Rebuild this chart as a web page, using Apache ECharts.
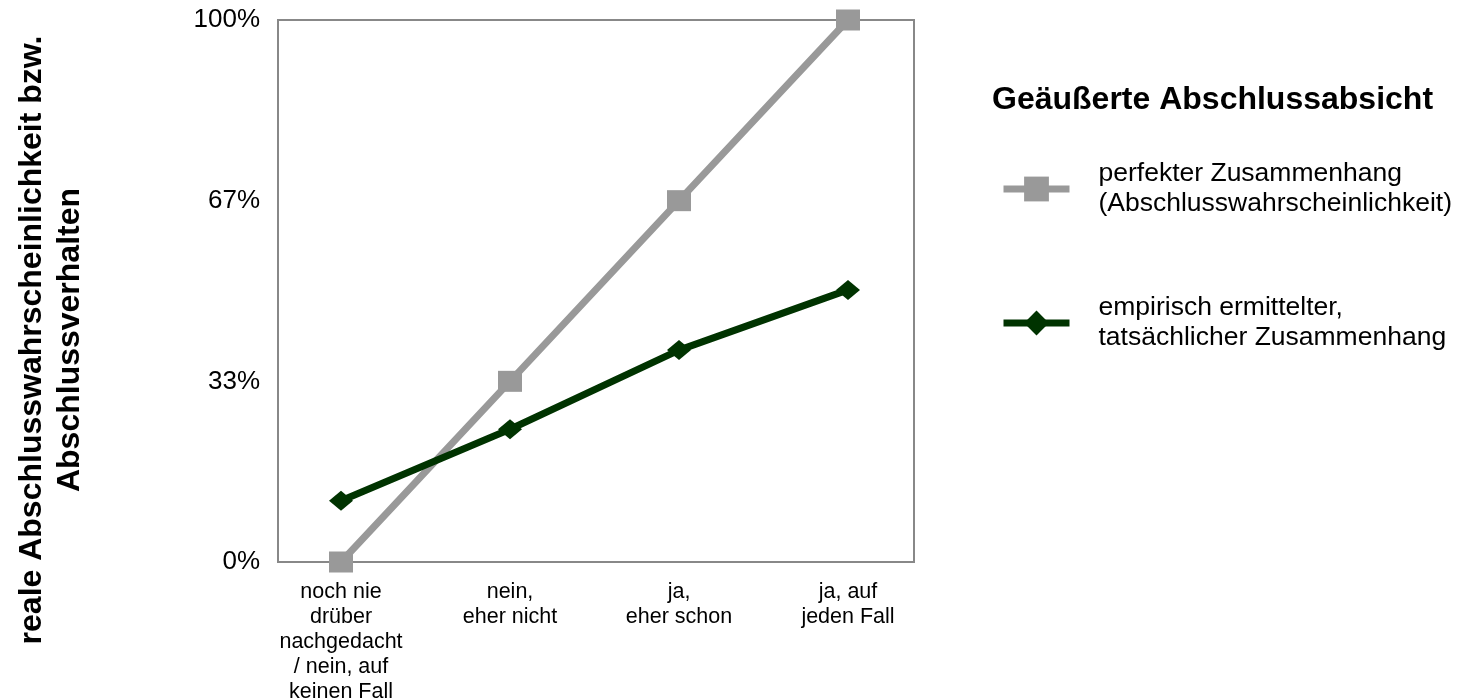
<!DOCTYPE html>
<html>
<head>
<meta charset="utf-8">
<script src="https://cdn.jsdelivr.net/npm/echarts@6/dist/echarts.min.js"></script>
<style>
  html, body { margin: 0; padding: 0; background: #fff; }
  #chart { width: 1470px; height: 699px; }
</style>
</head>
<body>
<div id="chart"></div>
<script>
// Antwortkategorien der geäußerten Abschlussabsicht
const categories = [
  'noch nie\ndrüber\nnachgedacht\n/ nein, auf\nkeinen Fall',
  'nein,\neher nicht',
  'ja,\neher schon',
  'ja, auf\njeden Fall'
];
// Abschlusswahrscheinlichkeit in Prozent
const perfectValues = [0, 100 / 3, 200 / 3, 100];
const empiricalValues = [11.3, 24.5, 39.1, 50.2];
const yTickLabels = ['0%', '33%', '67%', '100%'];

const seriesNames = [
  'perfekter Zusammenhang\n(Abschlusswahrscheinlichkeit)',
  'empirisch ermittelter,\ntatsächlicher Zusammenhang'
];
const legendTitle = 'Geäußerte Abschlussabsicht';
const yTitleLines = ['reale Abschlusswahrscheinlichkeit bzw.', 'Abschlussverhalten'];

const FONT = '"Liberation Sans", Arial, Helvetica, sans-serif';
const GREY = '#999999';
const GREEN = '#003300';
const FRAME = '#888888';

const chart = echarts.init(document.getElementById('chart'), null, { renderer: 'canvas' });

// rotated two-line axis title, reading bottom to top
function yTitle(text, x) {
  return {
    type: 'text',
    x: x,
    y: 340,
    rotation: Math.PI / 2,
    style: {
      text: text,
      x: 0, y: 0,
      font: 'bold 32px ' + FONT,
      fill: '#000',
      textAlign: 'center',
      textVerticalAlign: 'middle'
    }
  };
}

const option = {
  backgroundColor: '#ffffff',
  animation: false,
  textStyle: { fontFamily: FONT, color: '#000' },
  graphic: [
    yTitle(yTitleLines[0], 32),
    yTitle(yTitleLines[1], 70),
    {
      type: 'text',
      x: 992,
      y: 100,
      style: {
        text: legendTitle,
        x: 0, y: 0,
        font: 'bold 32px ' + FONT,
        fill: '#000',
        textAlign: 'left',
        textVerticalAlign: 'middle'
      }
    }
  ],
  legend: {
    orient: 'vertical',
    left: 995,
    top: 154,
    itemWidth: 66,
    itemHeight: 31,
    itemGap: 74,
    data: seriesNames,
    lineStyle: { width: 7 },
    textStyle: { fontFamily: FONT, fontSize: 26.5, lineHeight: 30, color: '#000', padding: [0, 0, 0, 24] }
  },
  grid: [
    { left: 278, top: 20, width: 636, height: 542, show: true, borderColor: FRAME, borderWidth: 2, backgroundColor: 'transparent', outerBoundsMode: 'none', containLabel: false },
    { left: 341, top: 20, width: 507, height: 542, outerBoundsMode: 'none', containLabel: false }
  ],
  xAxis: [
    { type: 'value', gridIndex: 0, min: 0, max: 1, show: false },
    {
      type: 'category', gridIndex: 1, data: categories, boundaryGap: false,
      axisLine: { show: false }, axisTick: { show: false },
      axisLabel: { fontFamily: FONT, fontSize: 21.5, lineHeight: 25, color: '#000', margin: 18, interval: 0, align: 'center' }
    }
  ],
  yAxis: [
    {
      type: 'value', gridIndex: 0, min: 0, max: 100, interval: 100 / 3,
      axisLine: { show: false }, axisTick: { show: false }, splitLine: { show: false },
      axisLabel: {
        fontFamily: FONT, fontSize: 26, color: '#000', margin: 18,
        formatter: (v) => yTickLabels[Math.round(v / (100 / 3))]
      }
    },
    { type: 'value', gridIndex: 1, min: 0, max: 100, show: false }
  ],
  series: [
    {
      name: seriesNames[0], type: 'line', xAxisIndex: 1, yAxisIndex: 1,
      data: perfectValues,
      symbol: 'rect', symbolSize: [24, 21],
      lineStyle: { color: GREY, width: 7 },
      itemStyle: { color: GREY },
      z: 2
    },
    {
      name: seriesNames[1], type: 'line', xAxisIndex: 1, yAxisIndex: 1,
      data: empiricalValues,
      symbol: 'diamond', symbolSize: [24, 20],
      lineStyle: { color: GREEN, width: 7 },
      itemStyle: { color: GREEN },
      z: 3
    }
  ]
};
chart.setOption(option);
</script>
</body>
</html>
